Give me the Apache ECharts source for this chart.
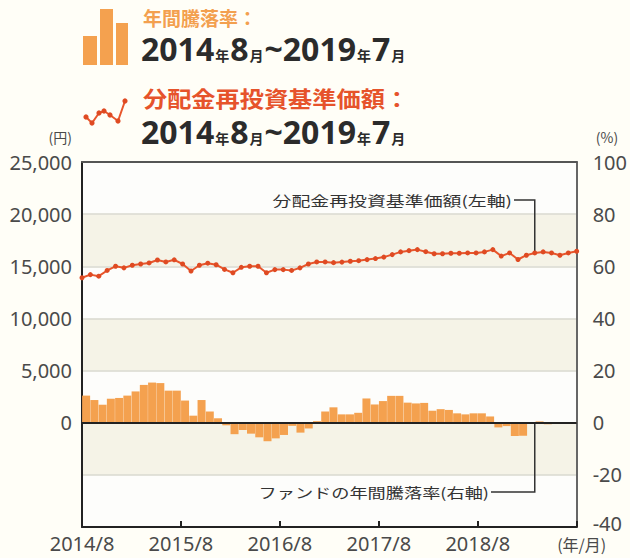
<!DOCTYPE html>
<html>
<head>
<meta charset="utf-8">
<script src="https://cdn.jsdelivr.net/npm/echarts@6/dist/echarts.min.js"></script>
<style>
html, body { margin: 0; padding: 0; background: #fffef7; }
#chart { width: 630px; height: 558px; }
</style>
</head>
<body>
<div id="chart"></div>
<script>
// ファンドの年間騰落率 (%), 2014/8 ~ 2019/7
var returnPct = [
  10.4, 8.7, 6.9, 9.2, 9.5, 10.4, 12.0, 14.5, 15.4, 15.2, 12.3, 12.3,
  8.5, 2.7, 8.7, 4.3, 1.7, -1.0, -4.4, -2.8, -4.2, -5.6, -7.1, -6.0,
  -4.7, -1.2, -3.8, -2.2, 0.6, 4.3, 5.9, 3.2, 3.2, 3.8, 9.3, 7.0,
  8.3, 10.3, 10.3, 7.7, 7.4, 7.6, 4.6, 5.2, 4.9, 3.6, 3.2, 3.6,
  3.6, 2.4, -1.8, -1.3, -5.1, -5.0, -0.5, 0.5, -0.6, -0.5, 0.1, 0.2
];

// 分配金再投資基準価額 (円)
var navValue = [
  13900, 14200, 14050, 14600, 15000, 14850, 15100, 15220, 15320, 15600, 15420, 15620,
  15220, 14550, 15100, 15300, 15150, 14700, 14380, 14900, 15000, 15000, 14380, 14680,
  14680, 14600, 14850, 15220, 15420, 15420, 15350, 15400, 15480, 15540, 15640, 15740,
  15880, 16120, 16380, 16500, 16600, 16400, 16200, 16200, 16250, 16250, 16280, 16280,
  16380, 16600, 15980, 16280, 15650, 16060, 16280, 16380, 16280, 16060, 16280, 16440
];

var xTickLabels = ['2014/8', '2015/8', '2016/8', '2017/8', '2018/8', '(年/月)'];

var months = [];
for (var yy = 2014, mm = 8; months.length < 60; mm++) {
  if (mm > 12) { mm = 1; yy++; }
  months.push(yy + '/' + mm);
}

// 注記の引き出し線を付ける月 (2019/2)
var calloutIndex = 54;

var font = "'Noto Sans', 'Noto Sans CJK JP', sans-serif";
var jpFont = "'Noto Sans CJK JP', 'Noto Sans', sans-serif";
var barColor = '#f4a14f';
var lineColor = '#e8562c';
var labelColor = '#4a4a4a';

var chart = echarts.init(document.getElementById('chart'), null, { renderer: 'svg' });

var option = {
  backgroundColor: '#fffef7',
  animation: false,
  textStyle: { fontFamily: font },
  grid: { left: 82, right: 53, top: 162, bottom: 31 },
  xAxis: [{
    type: 'value',
    min: 0,
    max: 60,
    interval: 12,
    position: 'bottom',
    axisLine: { show: true, onZero: false, lineStyle: { color: '#222', width: 2 } },
    axisTick: { show: true, inside: true, length: 6, lineStyle: { color: '#222', width: 2 } },
    axisLabel: {
      fontSize: 20,
      color: labelColor,
      margin: 6,
      fontFamily: font,
      formatter: function (v) {
        var t = xTickLabels[v / 12];
        return v === 60 ? '{u|' + t + '}' : t;
      },
      rich: { u: { fontSize: 16, lineHeight: 16, fontFamily: jpFont, color: labelColor, padding: [5, 0, 0, 10] } }
    },
    splitLine: { show: false }
  }, {
    type: 'category',
    data: months,
    show: false,
    boundaryGap: true,
    axisLine: { onZero: false }
  }, {
    type: 'category',
    data: months,
    show: false,
    boundaryGap: false,
    axisLine: { onZero: false }
  }, {
    type: 'value',
    min: 0,
    max: 60,
    position: 'top',
    axisLine: { show: true, onZero: false, lineStyle: { color: '#555', width: 2 } },
    axisTick: { show: false },
    axisLabel: { show: false },
    splitLine: { show: false }
  }],
  yAxis: [{
    type: 'value',
    min: -10000,
    max: 25000,
    interval: 5000,
    position: 'left',
    name: '(円)',
    nameLocation: 'end',
    nameGap: 18,
    nameTextStyle: { fontSize: 14, color: labelColor, align: 'right', padding: [0, 10, 0, 0], fontFamily: jpFont },
    axisLine: { show: true, onZero: false, lineStyle: { color: '#222', width: 2 } },
    axisTick: { show: false },
    axisLabel: {
      fontSize: 20,
      color: labelColor,
      margin: 10,
      formatter: function (v) { return v < 0 ? '' : v.toLocaleString('en-US'); }
    },
    splitLine: { show: false }
  }, {
    type: 'value',
    min: -40,
    max: 100,
    interval: 20,
    position: 'right',
    axisLine: { show: true, onZero: false, lineStyle: { color: '#666', width: 2 } },
    axisTick: { show: false },
    axisLabel: {
      fontSize: 20,
      color: labelColor,
      margin: 16,
      formatter: function (v) { return v === -40 ? '{b|' + v + '}' : String(v); },
      rich: { b: { fontSize: 20, lineHeight: 18, color: labelColor, padding: [0, 0, 8, 0] } }
    },
    splitLine: { show: true, lineStyle: { color: '#d8d8cf', width: 1.5 } },
    splitArea: { show: true, areaStyle: { color: ['#fdfdfb', '#f5f3e7'] } }
  }],
  series: [{
    name: '年間騰落率',
    type: 'bar',
    xAxisIndex: 1,
    yAxisIndex: 1,
    data: returnPct,
    barCategoryGap: '3%',
    itemStyle: { color: barColor },
    markLine: {
      silent: true,
      symbol: ['none', 'none'],
      label: { show: false },
      lineStyle: { color: '#222', width: 2, type: 'solid' },
      data: [{ yAxis: 0 }]
    }
  }, {
    name: '分配金再投資基準価額',
    type: 'line',
    xAxisIndex: 2,
    yAxisIndex: 0,
    data: navValue,
    symbol: 'circle',
    symbolSize: 5,
    showSymbol: true,
    showAllSymbol: true,
    lineStyle: { color: lineColor, width: 2 },
    itemStyle: { color: '#df4a22' },
    z: 5
  }]
};
chart.setOption(option);

// 見出し・注記
var pLine = chart.convertToPixel({ seriesIndex: 1 }, [calloutIndex, navValue[calloutIndex]]);
var pZero = chart.convertToPixel({ seriesIndex: 0 }, [calloutIndex, 0]);
var px = pLine[0];

var iconPts = [[86, 117], [92, 123], [99, 113], [104, 111], [110, 115], [118, 121], [125, 101]];
var dateRich = {
  d: { fontSize: 32, fontWeight: 'bold', fill: '#2b2b2b', fontFamily: font, verticalAlign: 'bottom', lineHeight: 28 },
  s: { fontSize: 14, fontWeight: 'bold', fill: '#2b2b2b', fontFamily: jpFont, verticalAlign: 'bottom', lineHeight: 28, padding: [0, 1, 2, 1] }
};
var dateText = '{d|2014}{s|年}{d|8}{s|月}{d|~2019}{s|年}{d|7}{s|月}';

var elements = [
  { type: 'rect', shape: { x: 83, y: 36, width: 14, height: 29 }, style: { fill: barColor } },
  { type: 'rect', shape: { x: 100, y: 9, width: 13, height: 56 }, style: { fill: barColor } },
  { type: 'rect', shape: { x: 116, y: 23, width: 12, height: 42 }, style: { fill: barColor } },
  { type: 'text', x: 143, y: 17, style: { text: '年間騰落率：', fontSize: 19, lineHeight: 19, fontWeight: 'bold', fontFamily: jpFont, fill: '#f3a04f', verticalAlign: 'middle' } },
  { type: 'text', x: 141, y: 50, style: { text: dateText, rich: dateRich, verticalAlign: 'middle' } },
  { type: 'polyline', shape: { points: iconPts }, style: { stroke: lineColor, lineWidth: 2, fill: null } },
  { type: 'text', x: 143, y: 97, scaleX: 1.1, style: { text: '分配金再投資基準価額：', fontSize: 22, lineHeight: 22, fontWeight: 'bold', fontFamily: jpFont, fill: '#e6532b', verticalAlign: 'middle' } },
  { type: 'text', x: 141, y: 133, style: { text: dateText, rich: dateRich, verticalAlign: 'middle' } },
  { type: 'text', x: 607, y: 137, style: { text: '(%)', fontSize: 14, fontFamily: jpFont, fill: labelColor, align: 'center', verticalAlign: 'middle' } },
  { type: 'text', x: 512, y: 200, scaleX: 1.35, style: { text: '分配金再投資基準価額(左軸)', fontSize: 14, fontFamily: jpFont, fill: '#333', align: 'right', verticalAlign: 'middle' } },
  { type: 'polyline', shape: { points: [[514, 200], [px, 200], [px, pLine[1]]] }, style: { stroke: '#333', lineWidth: 1.5, fill: null } },
  { type: 'text', x: 489, y: 492, scaleX: 1.3, style: { text: 'ファンドの年間騰落率(右軸)', fontSize: 14, fontFamily: jpFont, fill: '#333', align: 'right', verticalAlign: 'middle' } },
  { type: 'polyline', shape: { points: [[491, 492], [px, 492], [px, pZero[1]]] }, style: { stroke: '#333', lineWidth: 1.5, fill: null } }
];
iconPts.forEach(function (p) {
  elements.push({ type: 'circle', shape: { cx: p[0], cy: p[1], r: 2.6 }, style: { fill: '#df4a22' } });
});

chart.setOption({ graphic: { elements: elements } });
</script>
</body>
</html>
